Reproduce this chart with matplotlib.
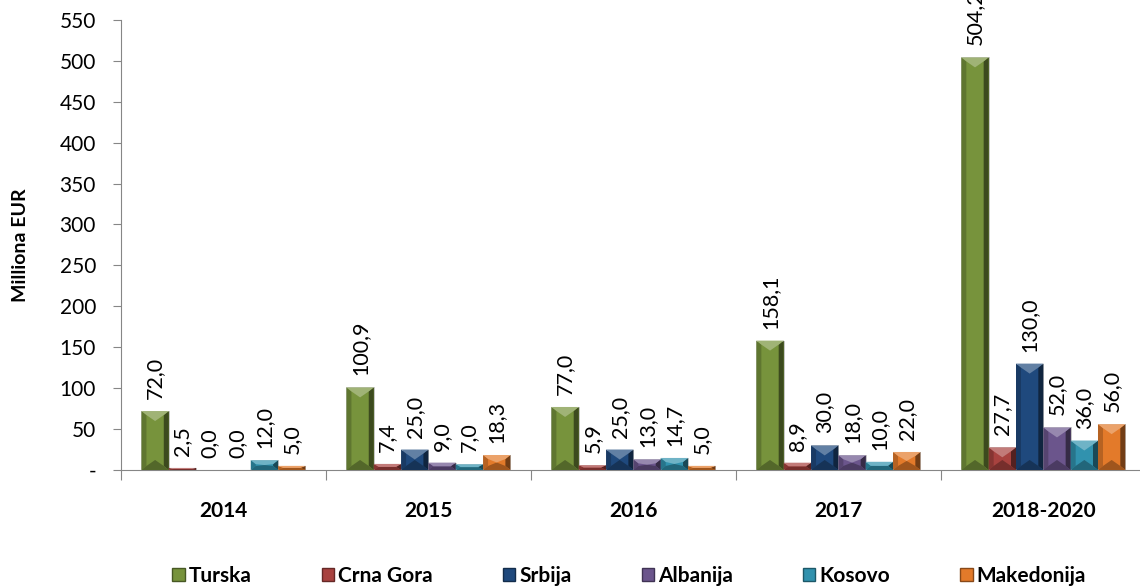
import numpy as np
import matplotlib.pyplot as plt
from matplotlib.patches import Polygon, Patch
from matplotlib.colors import to_rgb

plt.rcParams['font.family'] = ['Lato', 'DejaVu Sans']

# Data (million EUR)
years = ['2014', '2015', '2016', '2017', '2018-2020']
countries = ['Turska', 'Crna Gora', 'Srbija', 'Albanija', 'Kosovo', 'Makedonija']
turska = [72.0, 100.9, 77.0, 158.1, 504.2]
crna_gora = [2.5, 7.4, 5.9, 8.9, 27.7]
srbija = [0.0, 25.0, 25.0, 30.0, 130.0]
albanija = [0.0, 9.0, 13.0, 18.0, 52.0]
kosovo = [12.0, 7.0, 14.7, 10.0, 36.0]
makedonija = [5.0, 18.3, 5.0, 22.0, 56.0]
series = [turska, crna_gora, srbija, albanija, kosovo, makedonija]
colors = ['#77933C', '#A8423F', '#1F497D', '#6B558C', '#3192AE', '#E37A2A']


def shade(c, f):
    r, g, b = to_rgb(c)
    if f >= 0:
        return (r + (1 - r) * f, g + (1 - g) * f, b + (1 - b) * f)
    return (r * (1 + f), g * (1 + f), b * (1 + f))


def bevel(ax, x0, w, h, color, sx, sy, ty):
    # Excel-like angled bevel: V-shaped top, dark right edge
    x1 = x0 + w
    xc = x0 + w / 2
    sx = min(sx, w / 4)
    t = min(ty, h / 2)
    s = min(sy, h / 2)
    faces = [
        ([(x1 - sx, s), (x1, 0), (x1, h), (x1 - sx, h - s)], -0.5),    # right
        ([(x0, 0), (x0 + sx, s), (x0 + sx, h - s), (x0, h)], -0.2),    # left
        ([(x0, 0), (x1, 0), (x1 - sx, s), (xc, t), (x0 + sx, s)], -0.3),  # bottom
        ([(x0, h), (x1, h), (x1 - sx, h - s), (xc, h - t), (x0 + sx, h - s)], 0.3),  # top
    ]
    for pts, f in faces:
        ax.add_patch(Polygon(pts, closed=True, facecolor=shade(color, f),
                             edgecolor='none', zorder=3))


fig = plt.figure(figsize=(11.4, 5.86), dpi=100)
ax = fig.add_axes([0.1061, 0.198, 0.899, 0.768])

x = np.arange(len(years))
n = len(series)
bw = 0.8 / n
ax.set_xlim(-0.5, len(years) - 0.5)
ax.set_ylim(0, 550)

# pixel -> data conversion for bevel size
ax_w_px = 0.899 * 1140
ax_h_px = 0.768 * 586
px_x = len(years) / ax_w_px
px_y = 550 / ax_h_px

for i, (vals, col) in enumerate(zip(series, colors)):
    pos = x - 0.4 + bw * (i + 0.5)
    bars = ax.bar(pos, vals, width=bw, color=col, zorder=2,
                  edgecolor='#c8c8c8', linewidth=0.7)
    for b, v in zip(bars, vals):
        if v > 0:
            bevel(ax, b.get_x(), b.get_width(), b.get_height(), col,
                  5 * px_x, 4 * px_y, 10 * px_y)
        ax.text(b.get_x() + b.get_width() / 2, v + 12 * px_y,
                f'{v:.1f}'.replace('.', ','), rotation=90,
                ha='center', va='bottom', fontsize=15.5, color='black',
                zorder=4, clip_on=False)

yt = np.arange(0, 551, 50)
ax.set_yticks(yt)
ax.set_yticklabels(['-'] + [str(v) for v in yt[1:]], fontsize=15)
ax.set_ylabel('Milliona EUR', fontsize=14, fontweight='bold', labelpad=22)

ax.set_xticks(np.arange(-0.5, len(years), 1))
ax.set_xticklabels([])
ax.set_xticks(x, minor=True)
ax.set_xticklabels(years, minor=True, fontsize=15, fontweight='bold')
ax.tick_params(axis='x', which='minor', length=0, pad=22)
ax.tick_params(axis='x', which='major', length=7, color='#868686')
ax.tick_params(axis='y', length=6, color='#868686', pad=12)

for s in ['top', 'right']:
    ax.spines[s].set_visible(False)
ax.spines['left'].set_color('#868686')
ax.spines['bottom'].set_color('#868686')

handles = [Patch(facecolor=c, edgecolor=shade(c, -0.4)) for c in colors]
leg = fig.legend(handles, countries, loc='lower center', ncol=6,
                 bbox_to_anchor=(0.552, -0.032), frameon=False,
                 prop={'size': 15, 'weight': 'bold'},
                 handlelength=0.6, handleheight=0.6, handletextpad=0.2,
                 columnspacing=3.35)

fig.savefig('out.png', dpi=100)
